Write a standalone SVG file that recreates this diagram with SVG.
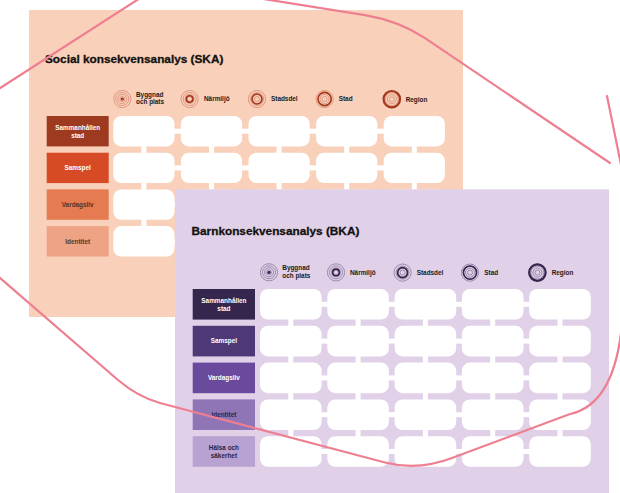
<svg xmlns="http://www.w3.org/2000/svg" width="620" height="493" viewBox="0 0 620 493">
<style>
  .t{font-family:"Liberation Sans",Arial,sans-serif;font-weight:700}
  .title{font-size:11.8px;fill:#111;stroke:#111;stroke-width:0.3}
  .leg{font-size:6.4px;fill:#1a1a1a}
  .lab{font-size:6.4px;text-anchor:middle}
  .w{fill:#fff}
  .dk1{fill:#5a3426}
  .dk2{fill:#2e2440}
  .cell{fill:#fff}
  .conn{fill:#fff}
  .thinS{fill:none;stroke:#b8492c;stroke-width:0.5;opacity:0.8}
  .thickS{fill:none;stroke:#a3381c;stroke-width:1.6}
  .thinB{fill:none;stroke:#3b2b57;stroke-width:0.5;opacity:0.8}
  .thickB{fill:none;stroke:#35264e;stroke-width:1.6}
  .pink{fill:none;stroke:#ee7f91;stroke-width:2.2;stroke-linecap:round;stroke-linejoin:round}
</style>
<defs>
  <g id="rings">
    <circle r="2.5"/><circle r="4.5"/><circle r="6.5"/><circle r="8.6"/>
  </g>
</defs>

<!-- SKA panel -->
<g id="ska-panel">
  <rect x="29" y="10" width="434" height="307" fill="#f9d0ba"/>
  <text class="t title" x="45" y="62.5">Social konsekvensanalys (SKA)</text>
</g>

<g id="ska-legend">
  <g id="ska-leg-byggnad">
    <use href="#rings" x="122.3" y="99" class="thinS"/>
    <circle cx="122.3" cy="99" r="1.6" fill="#a3381c"/>
    <text class="t leg" x="136" y="96.6">Byggnad</text>
    <text class="t leg" x="136" y="104.4">och plats</text>
  </g>
  <g id="ska-leg-narmiljo">
    <use href="#rings" x="189.6" y="99" class="thinS"/>
    <circle cx="189.6" cy="99" r="3.3" class="thickS"/>
    <text class="t leg" x="204" y="101.3">Närmiljö</text>
  </g>
  <g id="ska-leg-stadsdel">
    <use href="#rings" x="257" y="99" class="thinS"/>
    <circle cx="257" cy="99" r="5" class="thickS"/>
    <text class="t leg" x="271" y="101.3">Stadsdel</text>
  </g>
  <g id="ska-leg-stad">
    <use href="#rings" x="324.6" y="99" class="thinS"/>
    <circle cx="324.6" cy="99" r="6.6" class="thickS"/>
    <text class="t leg" x="338.7" y="101.3">Stad</text>
  </g>
  <g id="ska-leg-region">
    <use href="#rings" x="391.8" y="99.2" class="thinS"/>
    <circle cx="391.8" cy="99.2" r="8.2" fill="none" stroke="#a3381c" stroke-width="2.2"/>
    <text class="t leg" x="405.7" y="101.5">Region</text>
  </g>
</g>

<g id="ska-labels">
  <g id="ska-sammanhallen"><rect x="46.7" y="116" width="62" height="30.4" fill="#9e3a1f"/>
    <text class="t lab w" x="77.7" y="129.6">Sammanhållen</text><text class="t lab w" x="77.7" y="137.5">stad</text></g>
  <g id="ska-samspel"><rect x="46.7" y="152.7" width="62" height="30.4" fill="#d64a25"/>
    <text class="t lab w" x="77.7" y="170.2">Samspel</text></g>
  <g id="ska-vardagsliv"><rect x="46.7" y="189.4" width="62" height="30.4" fill="#e67a50"/>
    <text class="t lab dk1" x="77.7" y="206.9">Vardagsliv</text></g>
  <g id="ska-identitet"><rect x="46.7" y="226.1" width="62" height="30.4" fill="#eea384"/>
    <text class="t lab dk1" x="77.7" y="243.6">Identitet</text></g>
</g>

<g id="ska-connectors">
  <rect class="conn" x="173.3" y="128.7" width="8.8" height="5"/><rect class="conn" x="240.9" y="128.7" width="8.8" height="5"/><rect class="conn" x="308.5" y="128.7" width="8.8" height="5"/><rect class="conn" x="376.1" y="128.7" width="8.8" height="5"/>
  <rect class="conn" x="173.3" y="165.4" width="8.8" height="5"/><rect class="conn" x="240.9" y="165.4" width="8.8" height="5"/><rect class="conn" x="308.5" y="165.4" width="8.8" height="5"/><rect class="conn" x="376.1" y="165.4" width="8.8" height="5"/>
  <rect class="conn" x="173.3" y="202.1" width="8.8" height="5"/><rect class="conn" x="240.9" y="202.1" width="8.8" height="5"/><rect class="conn" x="308.5" y="202.1" width="8.8" height="5"/><rect class="conn" x="376.1" y="202.1" width="8.8" height="5"/>
  <rect class="conn" x="173.3" y="238.8" width="8.8" height="5"/><rect class="conn" x="240.9" y="238.8" width="8.8" height="5"/><rect class="conn" x="308.5" y="238.8" width="8.8" height="5"/><rect class="conn" x="376.1" y="238.8" width="8.8" height="5"/>
  <rect class="conn" x="141.4" y="145.4" width="5" height="8.3"/><rect class="conn" x="209" y="145.4" width="5" height="8.3"/><rect class="conn" x="276.6" y="145.4" width="5" height="8.3"/><rect class="conn" x="344.2" y="145.4" width="5" height="8.3"/><rect class="conn" x="411.8" y="145.4" width="5" height="8.3"/>
  <rect class="conn" x="141.4" y="182.1" width="5" height="8.3"/><rect class="conn" x="209" y="182.1" width="5" height="8.3"/><rect class="conn" x="276.6" y="182.1" width="5" height="8.3"/><rect class="conn" x="344.2" y="182.1" width="5" height="8.3"/><rect class="conn" x="411.8" y="182.1" width="5" height="8.3"/>
  <rect class="conn" x="141.4" y="218.8" width="5" height="8.3"/><rect class="conn" x="209" y="218.8" width="5" height="8.3"/><rect class="conn" x="276.6" y="218.8" width="5" height="8.3"/><rect class="conn" x="344.2" y="218.8" width="5" height="8.3"/><rect class="conn" x="411.8" y="218.8" width="5" height="8.3"/>
</g>

<g id="ska-cells">
  <rect class="cell" x="113.3" y="116" width="61.2" height="30.4" rx="8"/><rect class="cell" x="180.9" y="116" width="61.2" height="30.4" rx="8"/><rect class="cell" x="248.5" y="116" width="61.2" height="30.4" rx="8"/><rect class="cell" x="316.1" y="116" width="61.2" height="30.4" rx="8"/><rect class="cell" x="383.7" y="116" width="61.2" height="30.4" rx="8"/>
  <rect class="cell" x="113.3" y="152.7" width="61.2" height="30.4" rx="8"/><rect class="cell" x="180.9" y="152.7" width="61.2" height="30.4" rx="8"/><rect class="cell" x="248.5" y="152.7" width="61.2" height="30.4" rx="8"/><rect class="cell" x="316.1" y="152.7" width="61.2" height="30.4" rx="8"/><rect class="cell" x="383.7" y="152.7" width="61.2" height="30.4" rx="8"/>
  <rect class="cell" x="113.3" y="189.4" width="61.2" height="30.4" rx="8"/><rect class="cell" x="180.9" y="189.4" width="61.2" height="30.4" rx="8"/><rect class="cell" x="248.5" y="189.4" width="61.2" height="30.4" rx="8"/><rect class="cell" x="316.1" y="189.4" width="61.2" height="30.4" rx="8"/><rect class="cell" x="383.7" y="189.4" width="61.2" height="30.4" rx="8"/>
  <rect class="cell" x="113.3" y="226.1" width="61.2" height="30.4" rx="8"/><rect class="cell" x="180.9" y="226.1" width="61.2" height="30.4" rx="8"/><rect class="cell" x="248.5" y="226.1" width="61.2" height="30.4" rx="8"/><rect class="cell" x="316.1" y="226.1" width="61.2" height="30.4" rx="8"/><rect class="cell" x="383.7" y="226.1" width="61.2" height="30.4" rx="8"/>
</g>

<!-- BKA panel -->
<g id="bka-panel">
  <rect x="175" y="189.3" width="434" height="310" fill="#e0d0e8"/>
  <text class="t title" x="191.5" y="235">Barnkonsekvensanalys (BKA)</text>
</g>

<g id="bka-legend">
  <g id="bka-leg-byggnad">
    <use href="#rings" x="269" y="272.3" class="thinB"/>
    <circle cx="269" cy="272.3" r="1.6" fill="#35264e"/>
    <text class="t leg" x="282.3" y="269.8">Byggnad</text>
    <text class="t leg" x="282.3" y="277.6">och plats</text>
  </g>
  <g id="bka-leg-narmiljo">
    <use href="#rings" x="336" y="272.4" class="thinB"/>
    <circle cx="336" cy="272.4" r="3.3" class="thickB"/>
    <text class="t leg" x="350" y="274.7">Närmiljö</text>
  </g>
  <g id="bka-leg-stadsdel">
    <use href="#rings" x="402.6" y="272.6" class="thinB"/>
    <circle cx="402.6" cy="272.6" r="5" class="thickB"/>
    <text class="t leg" x="416.7" y="274.9">Stadsdel</text>
  </g>
  <g id="bka-leg-stad">
    <use href="#rings" x="470" y="272.6" class="thinB"/>
    <circle cx="470" cy="272.6" r="6.6" class="thickB"/>
    <text class="t leg" x="484.3" y="274.9">Stad</text>
  </g>
  <g id="bka-leg-region">
    <use href="#rings" x="537.4" y="272.6" class="thinB"/>
    <circle cx="537.4" cy="272.6" r="8.2" fill="none" stroke="#35264e" stroke-width="2.2"/>
    <text class="t leg" x="551.7" y="274.9">Region</text>
  </g>
</g>

<g id="bka-labels">
  <g id="bka-sammanhallen"><rect x="192.7" y="289" width="62.3" height="30.6" fill="#35264e"/>
    <text class="t lab w" x="223.9" y="302.7">Sammanhållen</text><text class="t lab w" x="223.9" y="310.6">stad</text></g>
  <g id="bka-samspel"><rect x="192.7" y="325.8" width="62.3" height="30.6" fill="#4e3876"/>
    <text class="t lab w" x="223.9" y="343.4">Samspel</text></g>
  <g id="bka-vardagsliv"><rect x="192.7" y="362.6" width="62.3" height="30.6" fill="#6a4a9d"/>
    <text class="t lab w" x="223.9" y="380.2">Vardagsliv</text></g>
  <g id="bka-identitet"><rect x="192.7" y="399.4" width="62.3" height="30.6" fill="#9075b6"/>
    <text class="t lab dk2" x="223.9" y="417">Identitet</text></g>
  <g id="bka-halsa"><rect x="192.7" y="436.2" width="62.3" height="30.6" fill="#b8a2d2"/>
    <text class="t lab dk2" x="223.9" y="449.9">Hälsa och</text><text class="t lab dk2" x="223.9" y="457.8">säkerhet</text></g>
</g>

<g id="bka-connectors">
  <rect class="conn" x="320.6" y="301.8" width="8.7" height="5"/><rect class="conn" x="387.9" y="301.8" width="8.7" height="5"/><rect class="conn" x="455.2" y="301.8" width="8.7" height="5"/><rect class="conn" x="522.5" y="301.8" width="8.7" height="5"/>
  <rect class="conn" x="320.6" y="338.6" width="8.7" height="5"/><rect class="conn" x="387.9" y="338.6" width="8.7" height="5"/><rect class="conn" x="455.2" y="338.6" width="8.7" height="5"/><rect class="conn" x="522.5" y="338.6" width="8.7" height="5"/>
  <rect class="conn" x="320.6" y="375.4" width="8.7" height="5"/><rect class="conn" x="387.9" y="375.4" width="8.7" height="5"/><rect class="conn" x="455.2" y="375.4" width="8.7" height="5"/><rect class="conn" x="522.5" y="375.4" width="8.7" height="5"/>
  <rect class="conn" x="320.6" y="412.2" width="8.7" height="5"/><rect class="conn" x="387.9" y="412.2" width="8.7" height="5"/><rect class="conn" x="455.2" y="412.2" width="8.7" height="5"/><rect class="conn" x="522.5" y="412.2" width="8.7" height="5"/>
  <rect class="conn" x="320.6" y="449" width="8.7" height="5"/><rect class="conn" x="387.9" y="449" width="8.7" height="5"/><rect class="conn" x="455.2" y="449" width="8.7" height="5"/><rect class="conn" x="522.5" y="449" width="8.7" height="5"/>
  <rect class="conn" x="288.3" y="318.6" width="5" height="8.2"/><rect class="conn" x="355.6" y="318.6" width="5" height="8.2"/><rect class="conn" x="422.9" y="318.6" width="5" height="8.2"/><rect class="conn" x="490.2" y="318.6" width="5" height="8.2"/><rect class="conn" x="557.5" y="318.6" width="5" height="8.2"/>
  <rect class="conn" x="288.3" y="355.4" width="5" height="8.2"/><rect class="conn" x="355.6" y="355.4" width="5" height="8.2"/><rect class="conn" x="422.9" y="355.4" width="5" height="8.2"/><rect class="conn" x="490.2" y="355.4" width="5" height="8.2"/><rect class="conn" x="557.5" y="355.4" width="5" height="8.2"/>
  <rect class="conn" x="288.3" y="392.2" width="5" height="8.2"/><rect class="conn" x="355.6" y="392.2" width="5" height="8.2"/><rect class="conn" x="422.9" y="392.2" width="5" height="8.2"/><rect class="conn" x="490.2" y="392.2" width="5" height="8.2"/><rect class="conn" x="557.5" y="392.2" width="5" height="8.2"/>
  <rect class="conn" x="288.3" y="429" width="5" height="8.2"/><rect class="conn" x="355.6" y="429" width="5" height="8.2"/><rect class="conn" x="422.9" y="429" width="5" height="8.2"/><rect class="conn" x="490.2" y="429" width="5" height="8.2"/><rect class="conn" x="557.5" y="429" width="5" height="8.2"/>
</g>

<g id="bka-cells">
  <rect class="cell" x="260" y="289" width="61.6" height="30.6" rx="8"/><rect class="cell" x="327.3" y="289" width="61.6" height="30.6" rx="8"/><rect class="cell" x="394.6" y="289" width="61.6" height="30.6" rx="8"/><rect class="cell" x="461.9" y="289" width="61.6" height="30.6" rx="8"/><rect class="cell" x="529.2" y="289" width="61.6" height="30.6" rx="8"/>
  <rect class="cell" x="260" y="325.8" width="61.6" height="30.6" rx="8"/><rect class="cell" x="327.3" y="325.8" width="61.6" height="30.6" rx="8"/><rect class="cell" x="394.6" y="325.8" width="61.6" height="30.6" rx="8"/><rect class="cell" x="461.9" y="325.8" width="61.6" height="30.6" rx="8"/><rect class="cell" x="529.2" y="325.8" width="61.6" height="30.6" rx="8"/>
  <rect class="cell" x="260" y="362.6" width="61.6" height="30.6" rx="8"/><rect class="cell" x="327.3" y="362.6" width="61.6" height="30.6" rx="8"/><rect class="cell" x="394.6" y="362.6" width="61.6" height="30.6" rx="8"/><rect class="cell" x="461.9" y="362.6" width="61.6" height="30.6" rx="8"/><rect class="cell" x="529.2" y="362.6" width="61.6" height="30.6" rx="8"/>
  <rect class="cell" x="260" y="399.4" width="61.6" height="30.6" rx="8"/><rect class="cell" x="327.3" y="399.4" width="61.6" height="30.6" rx="8"/><rect class="cell" x="394.6" y="399.4" width="61.6" height="30.6" rx="8"/><rect class="cell" x="461.9" y="399.4" width="61.6" height="30.6" rx="8"/><rect class="cell" x="529.2" y="399.4" width="61.6" height="30.6" rx="8"/>
  <rect class="cell" x="260" y="436.2" width="61.6" height="30.6" rx="8"/><rect class="cell" x="327.3" y="436.2" width="61.6" height="30.6" rx="8"/><rect class="cell" x="394.6" y="436.2" width="61.6" height="30.6" rx="8"/><rect class="cell" x="461.9" y="436.2" width="61.6" height="30.6" rx="8"/><rect class="cell" x="529.2" y="436.2" width="61.6" height="30.6" rx="8"/>
</g>

<!-- pink outline -->
<path class="pink" d="M607,96 L636,238 Q640,258 634,278 L621,333 Q612,405 570,414 L452,458 Q418,471 385,462.5 L160,403 Q138,397 118,380 L-126,169 L163.6,-17 L365,15.2 Q399,21 425,38.2 L610,163"/>
</svg>
